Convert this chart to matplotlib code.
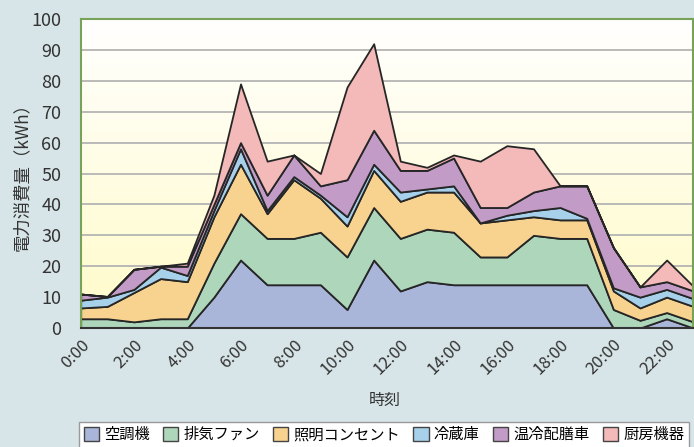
import numpy as np
import matplotlib
matplotlib.use("Agg")
import matplotlib.pyplot as plt
from matplotlib.colors import LinearSegmentedColormap

plt.rcParams['font.family'] = ['Noto Sans CJK JP', 'DejaVu Sans']

# hourly consumption (kWh) per equipment, 0:00 .. 23:00
hours = list(range(24))
tick_hours = list(range(0, 24, 2))
tick_labels = [f"{h}:00" for h in tick_hours]

names = ["空調機", "排気ファン", "照明コンセント", "冷蔵庫", "温冷配膳車", "厨房機器"]
aircon = [0, 0, 0, 0, 0, 10, 22, 14, 14, 14, 6, 22, 12, 15, 14, 14, 14, 14, 14, 14, 0, 0, 3, 0]
exhaust = [3, 3, 2, 3, 3, 11, 15, 15, 15, 17, 17, 17, 17, 17, 17, 9, 9, 16, 15, 15, 6, 2.5, 2, 2]
lighting = [3.5, 4, 9.5, 13, 12, 15, 16, 8, 19, 11, 10, 12, 12, 12, 13, 11, 12, 6, 6, 6, 6, 4, 5, 5]
fridge = [2.5, 3, 1, 3.7, 2, 2, 5, 1, 1, 1, 3, 2, 3, 1, 2, 0, 1.5, 2, 4, 0.5, 1, 3.5, 2.5, 2.5]
cart = [2, 0.2, 6.5, 0.3, 3, 2, 2, 5, 7, 3, 12, 11, 7, 6, 9, 5, 2.5, 6, 7, 10.5, 13, 3.3, 2.5, 2.5]
kitchen = [0, 0, 0, 0, 1, 3, 19, 11, 0, 4, 30, 28, 3, 1, 1, 15, 20, 14, 0, 0, 0, 0, 7, 1.5]

colors = ["#a9b6da", "#aed6bb", "#f8d38f", "#a7d0ea", "#c29cc6", "#f4b9b9"]

fig = plt.figure(figsize=(6.94, 4.47), dpi=100, facecolor="#d8e5e8")
ax = fig.add_axes([0.1163, 0.2662, 0.8827, 0.6913])

# background gradient of the plot area
grad = np.linspace(0, 1, 256).reshape(-1, 1)
cmap = LinearSegmentedColormap.from_list("bg", ["#fffbc8", "#ffffff"])
ax.imshow(grad, extent=[0, 23, 0, 100], origin="lower", aspect="auto",
          cmap=cmap, zorder=0)

for y in range(10, 100, 10):
    ax.axhline(y, color="#b4b4b4", lw=1.3, zorder=1)

ax.stackplot(hours, aircon, exhaust, lighting, fridge, cart, kitchen,
             colors=colors, labels=names, edgecolor="#262626",
             linewidth=1.3, zorder=2)

ax.set_xlim(0, 23)
ax.set_ylim(0, 100)
ax.set_yticks(range(0, 101, 10))
ax.set_xticks(tick_hours)
ax.set_xticklabels(tick_labels, rotation=45, ha="right", rotation_mode="anchor")
ax.set_xticks(hours, minor=True)
ax.tick_params(axis="y", length=0, pad=14, labelsize=13, labelcolor="#333333")
ax.tick_params(axis="x", which="both", direction="in", length=6,
               color="#999999", labelsize=12, labelcolor="#333333", pad=6)

for side in ["left", "top", "right"]:
    ax.spines[side].set_color("#76a357")
    ax.spines[side].set_linewidth(1.5)
ax.spines["bottom"].set_color("#333333")
ax.spines["bottom"].set_linewidth(1.5)
ax.spines["bottom"].set_zorder(5)

fig.text(0.031, 0.615, "電力消費量（kWh）", rotation=90, ha="center", va="center",
         fontsize=12.5, color="#333333")
fig.text(0.555, 0.105, "時刻", ha="center", va="center", fontsize=11.5,
         color="#333333")

handles, labels = ax.get_legend_handles_labels()
leg = fig.legend(handles, labels, loc="upper left", bbox_to_anchor=(0.114, 0.057),
                 ncol=6, fontsize=11, frameon=True, fancybox=False,
                 handlelength=1.0, handleheight=1.0, handletextpad=0.35,
                 columnspacing=0.85, borderpad=0.3, borderaxespad=0)
leg.get_frame().set_edgecolor("#999999")
leg.get_frame().set_facecolor("white")
leg.get_frame().set_alpha(1)
for p in leg.get_patches():
    p.set_edgecolor("#444444")
    p.set_linewidth(1.0)

fig.savefig("out.png", dpi=100, facecolor=fig.get_facecolor())
